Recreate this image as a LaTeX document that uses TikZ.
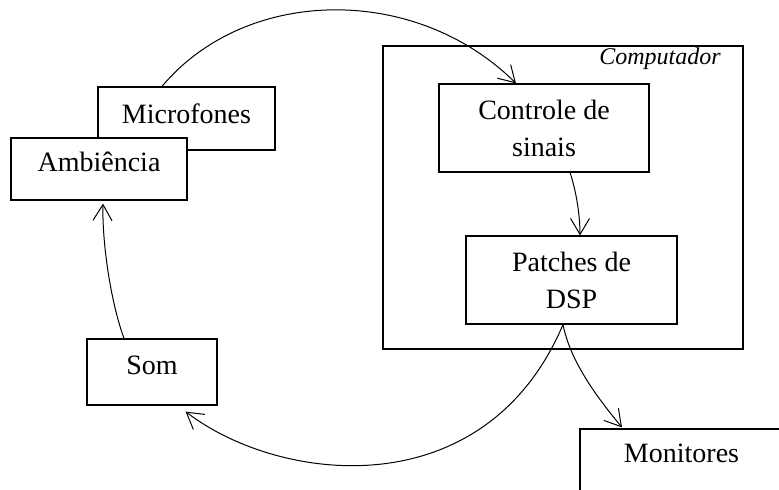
\documentclass[tikz,border=0pt]{standalone}
\usepackage{fontspec}
\setmainfont{Liberation Serif}
\usetikzlibrary{arrows.meta}

\begin{document}
\begin{tikzpicture}[x=0.5pt,y=-0.5pt,
    caixa/.style={draw,line width=0.6pt,fill=white,align=center,inner sep=0pt,font=\fontsize{14}{18.5}\selectfont},
    seta/.style={-{Straight Barb[length=8pt,width=9.5pt]},line width=0.5pt}]
    \useasboundingbox (0,0) rectangle (779,489);
    \clip (0,0) rectangle (779,489);
    \node[caixa,fill=none,minimum width=180pt,minimum height=151.5pt] (comp) at (563,197.5) {};
    \node[font=\fontsize{12}{14}\selectfont\itshape] (complabel) at (660,59) {Computador};
    \foreach \n/\x/\w/\h/\d/\l in{
    mic/{(186.5,118.5)}/88.5/31.5/5/{Microfones},
    amb/{(99,169)}/88/31/7/{Ambiência},
    ctrl/{(544,128)}/105/44/0/{Controle de\\sinais},
    dsp/{(571.5,280)}/105.5/44/0/{Patches de\\DSP},
    som/{(152,372)}/65/33/7/{Som},
    mon/{(685,469.5)}/105/40.5/16/{Monitores}
    }
    {
        \node[caixa,minimum width=\w pt,minimum height=\h pt,text depth=\d pt] (\n) at \x {\l};
    }
    \draw[seta] ([xshift=-12.25pt]mic.north) .. controls (246,-14) and (416,-16) .. ([xshift=-14pt]ctrl.north);
    \draw[seta] ([xshift=13pt]ctrl.south) .. controls (576,190) and (580,215) .. ([xshift=4.25pt]dsp.north);
    \draw[seta] ([xshift=-4.25pt]dsp.south) .. controls (570,360) and (595,395) .. ([xshift=-31.5pt,yshift=0.5pt]mon.north);
    \draw[seta] ([xshift=-4.25pt]dsp.south) .. controls (485,508) and (280,484) .. ([xshift=-16pt,yshift=-3pt]som.south east);
    \draw[seta] ([xshift=-14pt]som.north) .. controls (110,300) and (102,240) .. ([xshift=2pt,yshift=-1.5pt]amb.south);
\end{tikzpicture}
\end{document}
